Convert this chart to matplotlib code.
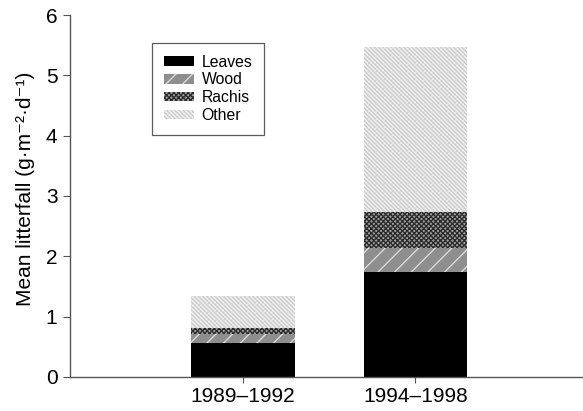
import numpy as np
import matplotlib.pyplot as plt
from matplotlib.patches import Patch

plt.rcParams['font.family'] = ['Liberation Sans', 'DejaVu Sans']

periods = ['1989\u20131992', '1994\u20131998']
leaves = [0.56, 1.74]
wood = [0.15, 0.40]
rachis = [0.10, 0.60]
other = [0.53, 2.73]

# fill colour, hatch colour, hatch pattern, hatch width for each fraction
styles = {
    'Leaves': ('black', 'black', None, 1.0),
    'Wood': ('#8e8e8e', '#d8d8d8', '//', 1.0),
    'Rachis': ('#a4a4a4', '#2c2c2c', 'x' * 7, 1.0),
    'Other': ('#cdcdcd', '#f2f2f2', '\\' * 8, 1.0),
}

fig = plt.figure(figsize=(5.83, 4.11), dpi=100)
ax = fig.add_axes([0.12, 0.083, 0.88, 0.8805])

x = np.arange(len(periods))
bottom = np.zeros(len(periods))
handles = []
for name, vals in zip(['Leaves', 'Wood', 'Rachis', 'Other'], [leaves, wood, rachis, other]):
    fc, hc, hatch, hlw = styles[name]
    plt.rcParams['hatch.linewidth'] = hlw
    ax.bar(x, vals, 0.6, bottom=bottom, color=fc, edgecolor=hc, hatch=hatch, linewidth=0)
    bottom += np.array(vals)
    handles.append(Patch(facecolor=fc, edgecolor=hc, hatch=hatch, linewidth=0, label=name))

ax.set_xlim(-1.0, 1.97)
ax.set_ylim(0, 6)
ax.set_xticks(x)
ax.set_xticklabels(periods, fontsize=15)
ax.set_yticks(range(7))
ax.tick_params(axis='y', labelsize=15, length=5, color='#555555', direction='out', pad=4)
ax.tick_params(axis='x', length=4, color='#555555', pad=3)
for side in ['top', 'right']:
    ax.spines[side].set_visible(False)
for side in ['left', 'bottom']:
    ax.spines[side].set_color('#555555')
    ax.spines[side].set_linewidth(1.0)

ax.set_ylabel('Mean litterfall (g\u00b7m\u207b\u00b2\u00b7d\u207b\u00b9)', fontsize=15)
ax.yaxis.set_label_coords(-0.068, 0.52)

leg = ax.legend(handles=handles, loc='upper left', bbox_to_anchor=(0.16, 0.923),
                fontsize=11.3, frameon=True, fancybox=False, edgecolor='#333333',
                handlelength=1.9, handleheight=0.55, handletextpad=0.5,
                borderpad=0.75, labelspacing=0.18, borderaxespad=0)
leg.get_frame().set_linewidth(0.9)

fig.savefig('out.png', dpi=100)
